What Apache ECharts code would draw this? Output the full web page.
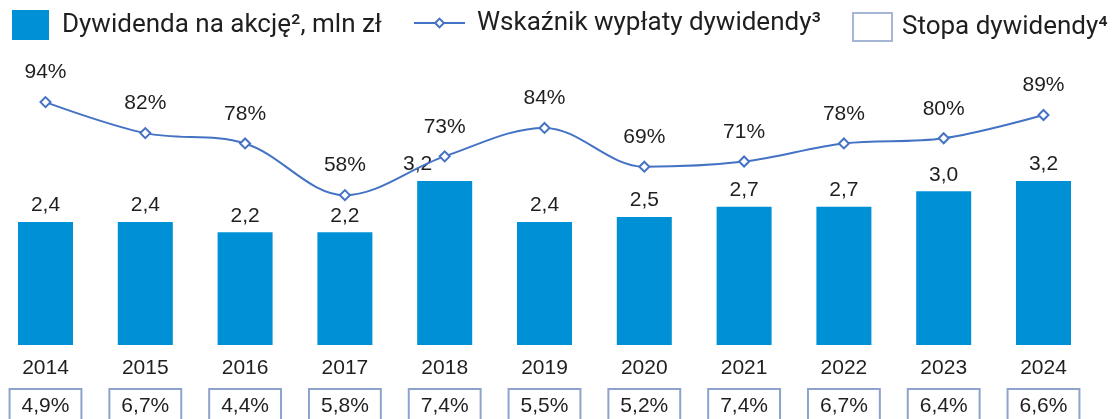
<!DOCTYPE html>
<html>
<head>
<meta charset="utf-8">
<script src="https://cdn.jsdelivr.net/npm/echarts@6/dist/echarts.min.js"></script>
<style>
  html, body { margin: 0; padding: 0; background: #fff; }
  #chart { width: 1118px; height: 419px; }
</style>
</head>
<body>
<div id="chart"></div>
<script>
var years = ['2014', '2015', '2016', '2017', '2018', '2019', '2020', '2021', '2022', '2023', '2024'];
var dividend = [2.4, 2.4, 2.2, 2.2, 3.2, 2.4, 2.5, 2.7, 2.7, 3.0, 3.2]; // mln zł
var payoutRatio = [94, 82, 78, 58, 73, 84, 69, 71, 78, 80, 89]; // %
var dividendYield = ['4,9%', '6,7%', '4,4%', '5,8%', '7,4%', '5,5%', '5,2%', '7,4%', '6,7%', '6,4%', '6,6%'];

var names = ['Dywidenda na akcję\u00b2, mln zł', 'Wskaźnik wypłaty dywidendy\u00b3', 'Stopa dywidendy\u2074'];
var barColor = '#0090d6';
var lineColor = '#4472c4';
var boxColor = '#8da3cc';
var textColor = '#1f1f1f';
var legendFont = 'Roboto';
var numFont = 'Liberation Sans';

var myChart = echarts.init(document.getElementById('chart'));

var barData = dividend.map(function (v, i) {
    var d = { value: v };
    if (i === 4) { // etykieta 2018 przesunięta w lewo, jak w oryginale
        d.label = { offset: [-27, 0] };
    }
    return d;
});

function legendText(padLeft) {
    return { fontSize: 26, color: textColor, fontFamily: legendFont, padding: [0, 0, 0, padLeft] };
}

option = {
    animation: false,
    textStyle: { fontFamily: numFont },
    legend: [{
        data: [names[0]],
        left: 12, top: 10, padding: 0,
        itemWidth: 37, itemHeight: 30,
        icon: 'rect',
        textStyle: legendText(8)
    }, {
        data: [names[1]],
        left: 413, top: 10, padding: 0,
        itemWidth: 51, itemHeight: 11,
        textStyle: legendText(7)
    }, {
        data: [{
            name: names[2],
            icon: 'rect',
            itemStyle: { color: '#fff', borderColor: boxColor, borderWidth: 2 }
        }],
        left: 852, top: 12, padding: 0,
        itemWidth: 39, itemHeight: 28,
        textStyle: legendText(5)
    }],
    grid: { left: 45.5, right: 74.5, top: 37.5, bottom: 74, containLabel: false, outerBoundsMode: 'none' },
    xAxis: [{
        type: 'category',
        data: years,
        boundaryGap: false,
        axisLine: { show: false },
        axisTick: { show: false },
        axisLabel: { margin: 13, fontSize: 21, color: textColor, fontFamily: numFont }
    }, {
        type: 'category',
        position: 'bottom',
        data: dividendYield,
        boundaryGap: false,
        offset: 33,
        axisLine: { show: false },
        axisTick: { show: false },
        axisLabel: {
            margin: 12,
            fontSize: 21,
            color: textColor,
            fontFamily: numFont,
            borderColor: boxColor,
            borderWidth: 2,
            padding: [6, 11, 10, 11],
            backgroundColor: '#fff'
        }
    }],
    yAxis: [{
        type: 'value', min: 0, max: 6, show: false, splitLine: { show: false }
    }, {
        type: 'value', min: 0, max: 119, show: false, splitLine: { show: false }
    }],
    series: [{
        name: names[0],
        type: 'bar',
        data: barData,
        barWidth: 55,
        clip: false,
        itemStyle: { color: barColor },
        label: {
            show: true,
            position: 'top',
            distance: 6,
            fontSize: 21,
            color: textColor,
            fontFamily: numFont,
            formatter: function (p) { return p.value.toFixed(1).replace('.', ','); }
        }
    }, {
        name: names[1],
        type: 'line',
        yAxisIndex: 1,
        data: payoutRatio,
        smooth: 0.35,
        symbol: 'diamond',
        symbolSize: 10,
        clip: false,
        lineStyle: { color: lineColor, width: 2 },
        itemStyle: { color: '#fff', borderColor: lineColor, borderWidth: 2 },
        label: {
            show: true,
            position: 'top',
            distance: 13,
            fontSize: 21,
            color: textColor,
            fontFamily: numFont,
            formatter: '{c}%'
        },
        z: 3
    }, {
        name: names[2],
        type: 'scatter',
        data: []
    }]
};
myChart.setOption(option);

window.addEventListener('resize', function () {
    myChart.resize();
});
</script>
</body>
</html>
